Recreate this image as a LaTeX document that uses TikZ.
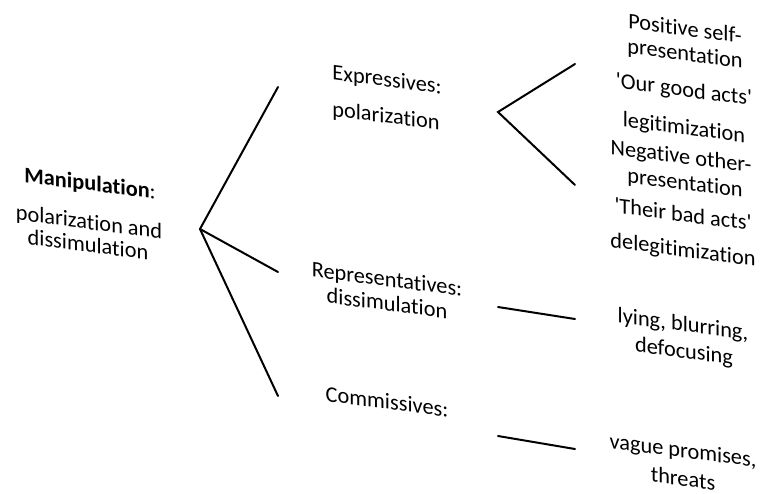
\documentclass[tikz,border=0pt]{standalone}
\usepackage{fontspec}
\setmainfont{Carlito}[Ligatures=NoCommon]
\begin{document}
\begin{tikzpicture}[x=1pt,y=-1pt,
  lbl/.style={font=\fontsize{22.3}{26}\selectfont, inner sep=0pt, anchor=base, yslant=-0.13},
  branch/.style={line width=2pt, line cap=round}]
\useasboundingbox (0,0) rectangle (762,493);

% --- connector end points ---
\coordinate (root)  at (200,229);
\coordinate (rootE) at (278,87);
\coordinate (rootR) at (278,272);
\coordinate (rootC) at (278,396);
\coordinate (expr)  at (498,112);
\coordinate (exprP) at (575,64);
\coordinate (exprN) at (575,185);
\coordinate (repA)  at (498,307);
\coordinate (repB)  at (575,319);
\coordinate (comA)  at (498,436);
\coordinate (comB)  at (575,449);

% --- tree branches ---
\draw[branch] (rootE) -- (root) -- (rootC);
\draw[branch] (root) -- (rootR);
\draw[branch] (exprP) -- (expr) -- (exprN);
\draw[branch] (repA) -- (repB);
\draw[branch] (comA) -- (comB);

% --- root ---
\node[lbl] (m1) at (90,190.7) {\textbf{Manipulation}:};
\node[lbl] (m2) at (89,229.3) {polarization and};
\node[lbl] (m3) at (88,252)   {dissimulation};

% --- speech act types ---
\node[lbl] (e1) at (387,86.7)  {Expressives:};
\node[lbl] (e2) at (386,123)   {polarization};
\node[lbl] (r1) at (387,286.5) {Representatives:};
\node[lbl] (r2) at (387,310.7) {dissimulation};
\node[lbl] (c1) at (387,409.2) {Commissives:};

% --- strategies ---
\node[lbl] (p1) at (685,35.7)  {Positive self-};
\node[lbl] (p2) at (685,60.7)  {presentation};
\node[lbl] (g1) at (684,96.7)  {\textquotesingle Our good acts\textquotesingle};
\node[lbl] (g2) at (684,134.7) {legitimization};
\node[lbl] (n1) at (681,163.3) {Negative other-};
\node[lbl] (n2) at (685,190)   {presentation};
\node[lbl] (b1) at (683,221.7) {\textquotesingle Their bad acts\textquotesingle};
\node[lbl] (b2) at (683,256.7) {delegitimization};
\node[lbl] (l1) at (683,331.3) {lying, blurring,};
\node[lbl] (l2) at (684,358.2) {defocusing};
\node[lbl] (v1) at (683,457.7) {vague promises,};
\node[lbl] (v2) at (683,486)   {threats};
\end{tikzpicture}
\end{document}
